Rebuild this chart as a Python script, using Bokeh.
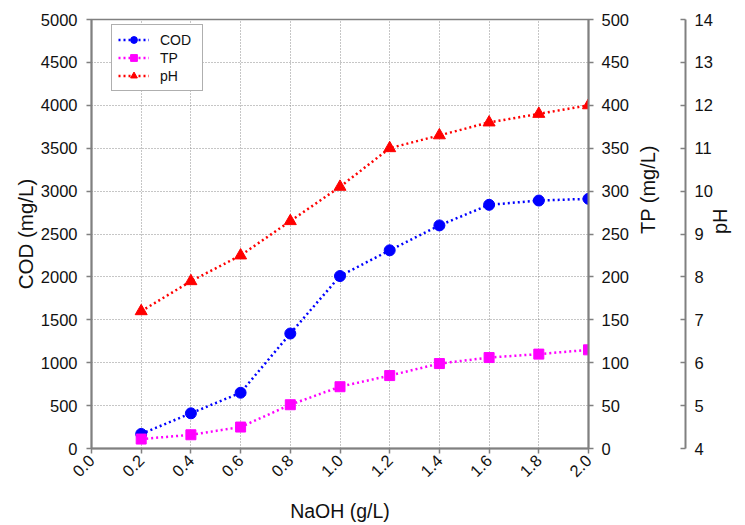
import math
from bokeh.plotting import figure
from bokeh.models import (Range1d, LinearAxis, FixedTicker, PrintfTickFormatter,
                          Legend, LegendItem)
from bokeh.embed import file_html
from bokeh.resources import INLINE

naoh = [0.2, 0.4, 0.6, 0.8, 1.0, 1.2, 1.4, 1.6, 1.8, 2.0]
cod = [170, 410, 650, 1340, 2010, 2310, 2600, 2840, 2890, 2910]
tp = [11, 16, 25, 51, 72, 85, 99, 106, 110, 115]
ph = [7.2, 7.9, 8.5, 9.3, 10.1, 11.0, 11.3, 11.6, 11.8, 12.0]

x_ticks = [0.0, 0.2, 0.4, 0.6, 0.8, 1.0, 1.2, 1.4, 1.6, 1.8, 2.0]
cod_ticks = [0, 500, 1000, 1500, 2000, 2500, 3000, 3500, 4000, 4500, 5000]
tp_ticks = [0, 50, 100, 150, 200, 250, 300, 350, 400, 450, 500]
ph_ticks = [4, 5, 6, 7, 8, 9, 10, 11, 12, 13, 14]

FONT = "Liberation Sans"
TXT = "#111111"
AX = "#808080"

p = figure(width=745, height=525, output_backend="svg",
           toolbar_location=None,
           x_range=Range1d(0, 2), y_range=Range1d(0, 5000),
           min_border_left=91, min_border_top=19, min_border_right=157,
           min_border_bottom=75)
p.extra_y_ranges = {"tp": Range1d(0, 500), "ph": Range1d(4, 14)}
p.outline_line_color = AX
p.outline_line_width = 1.5
p.background_fill_color = "white"
p.border_fill_color = "white"


def style_axis(ax, label_standoff, title_standoff, title_size="20px"):
    ax.axis_line_color = AX
    ax.axis_line_width = 2
    ax.major_tick_line_color = AX
    ax.major_tick_line_width = 1.5
    ax.minor_tick_line_color = None
    ax.major_tick_out = 5
    ax.major_tick_in = 0
    ax.major_label_text_font = FONT
    ax.major_label_text_font_size = "16.5px"
    ax.major_label_text_color = TXT
    ax.major_label_standoff = label_standoff
    ax.axis_label_text_font = FONT
    ax.axis_label_text_font_size = title_size
    ax.axis_label_text_font_style = "normal"
    ax.axis_label_text_color = TXT
    ax.axis_label_standoff = title_standoff


xa = p.xaxis[0]
xa.ticker = FixedTicker(ticks=x_ticks)
xa.formatter = PrintfTickFormatter(format="%.1f")
xa.axis_label = "NaOH (g/L)"
xa.major_label_orientation = math.pi / 4
style_axis(xa, 4, 15, "19.5px")

ya = p.yaxis[0]
ya.ticker = FixedTicker(ticks=cod_ticks)
ya.axis_label = "COD (mg/L)"
style_axis(ya, 9, 1, "20.5px")

tp_axis = LinearAxis(y_range_name="tp", ticker=FixedTicker(ticks=tp_ticks),
                     axis_label="TP (mg/L)")
style_axis(tp_axis, 8, 16)
p.add_layout(tp_axis, "right")

spacer = LinearAxis(y_range_name="tp", ticker=FixedTicker(ticks=[250]),
                    axis_label=None)
spacer.axis_line_color = None
spacer.major_tick_line_color = None
spacer.minor_tick_line_color = None
spacer.major_tick_out = 12
spacer.major_tick_in = 0
spacer.major_label_standoff = 0
spacer.major_label_text_font_size = "1px"
spacer.major_label_text_alpha = 0
p.add_layout(spacer, "right")

ph_axis = LinearAxis(y_range_name="ph", ticker=FixedTicker(ticks=ph_ticks),
                     axis_label="pH")
style_axis(ph_axis, 9, 4)
ph_axis.major_tick_out = 0
ph_axis.major_tick_in = 5
p.add_layout(ph_axis, "right")

for ax in (tp_axis, ph_axis):
    if "axis_label_orientation" in ax.properties():
        ax.axis_label_orientation = math.pi / 2

for g in (p.xgrid[0], p.ygrid[0]):
    g.grid_line_color = "#8c8c8c"
    g.grid_line_dash = "1 2"
    g.grid_line_width = 1

DASH = "2 3"
l1 = p.line(naoh, cod, line_color="#0000ff", line_width=2.5, line_dash=DASH)
s1 = p.scatter(naoh, cod, marker="circle", size=11, fill_color="#0000ff",
               line_color="#0000ff")
l2 = p.line(naoh, tp, line_color="#ff00ff", line_width=2.5, line_dash=DASH,
            y_range_name="tp")
s2 = p.scatter(naoh, tp, marker="square", size=10, fill_color="#ff00ff",
               line_color="#ff00ff", y_range_name="tp")
l3 = p.line(naoh, ph, line_color="#ff0000", line_width=2.5, line_dash=DASH,
            y_range_name="ph")
s3 = p.scatter(naoh, ph, marker="triangle", size=12, fill_color="#ff0000",
               line_color="#ff0000", y_range_name="ph")

legend = Legend(items=[LegendItem(label="COD", renderers=[l1, s1]),
                       LegendItem(label="TP", renderers=[l2, s2]),
                       LegendItem(label="pH", renderers=[l3, s3])],
                location=(20, 357))
legend.label_text_font = FONT
legend.label_text_font_size = "14px"
legend.label_text_color = TXT
legend.glyph_width = 31
legend.glyph_height = 17
legend.label_height = 17
legend.label_width = 36
legend.label_standoff = 11
legend.padding = 6
legend.spacing = 1
legend.margin = 0
legend.border_line_color = "#606060"
legend.border_line_width = 1.5
legend.background_fill_color = "white"
legend.background_fill_alpha = 1
p.add_layout(legend)

open("out.html", "w").write(file_html(p, INLINE))
